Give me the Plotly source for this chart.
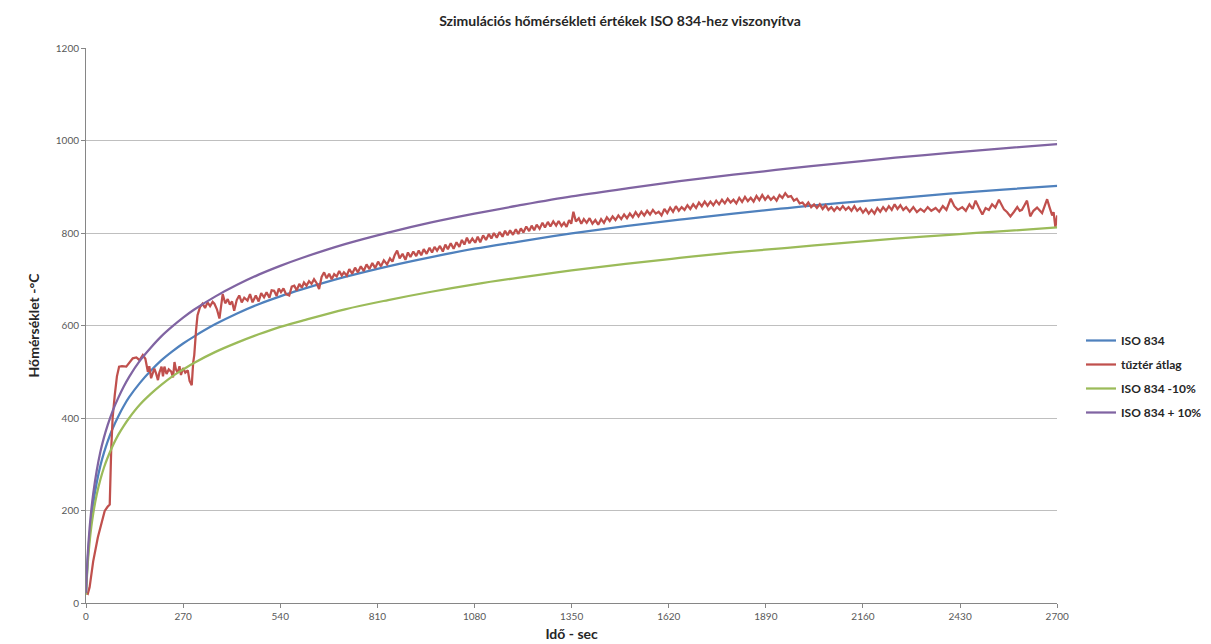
import plotly.graph_objects as go

# ---------------- data ----------------
iso_t = [0, 5, 10, 15, 20, 30, 40, 50, 60, 75, 90, 105, 120, 150, 180, 210, 240, 270, 300,
         360, 420, 480, 540, 600, 720, 840, 960, 1080, 1200, 1350, 1500, 1650, 1800, 1950,
         2100, 2250, 2400, 2550, 2700]
iso_834 = [20, 97, 147, 185, 215, 261, 297, 325, 349, 379, 404, 426, 445, 476, 502, 525, 544, 561, 576,
           603, 626, 646, 663, 678, 705, 728, 748, 766, 781, 799, 815, 829, 842, 854,
           865, 875, 885, 894, 902]
iso_minus10 = [18, 87, 132, 166, 193, 235, 267, 293, 314, 341, 364, 383, 400, 429, 452, 472, 490, 505, 519,
               543, 563, 581, 597, 610, 635, 655, 673, 689, 703, 719, 733, 746, 758, 768,
               778, 788, 796, 804, 812]
iso_plus10 = [22, 107, 162, 203, 236, 287, 327, 358, 384, 417, 444, 468, 489, 524, 552, 577, 598, 617, 634,
              663, 688, 710, 729, 746, 776, 801, 823, 842, 859, 879, 896, 912, 926, 939,
              951, 963, 973, 983, 992]

fire_t = [0, 5, 10, 20, 33, 45, 52, 60, 66, 70, 74, 80, 86, 92, 100, 112, 120, 130, 140, 149, 158, 165,
          172, 176, 181, 186, 190, 195, 200, 204, 210, 214, 218, 224, 230, 237, 242, 246, 250, 255,
          260, 264, 270, 276, 283, 288, 294, 298, 301, 306, 310,
          317, 324, 331, 338, 345, 352, 357, 364, 371, 376, 380, 387, 394, 400, 406, 412, 419, 426,
          433, 440, 449, 456, 463, 472, 480, 487, 495, 502, 510, 516, 523, 530, 536, 542, 549, 556,
          565, 572, 579, 586, 593, 600, 606, 613, 620, 627, 634, 641, 648, 655, 662, 669, 676, 683,
          690, 697, 704, 711, 717,
          725, 732, 740, 748, 756, 764, 772, 780, 788, 796, 804, 812, 820, 828, 837, 845, 852, 858,
          865, 872, 880, 888, 895, 902, 910, 918, 925, 932, 939, 947, 955, 962, 969, 976, 984, 992,
          999, 1006, 1014, 1022, 1030, 1038, 1045, 1052, 1059, 1066, 1074, 1082, 1089, 1096, 1104,
          1112, 1120, 1127, 1134, 1142, 1150, 1158, 1165, 1172, 1179, 1187, 1195, 1202, 1209, 1216,
          1224, 1232, 1239, 1246, 1253, 1261, 1269, 1276, 1284, 1291, 1299, 1307, 1314, 1322, 1329,
          1336, 1343, 1349, 1355, 1362, 1370, 1377, 1384,
          1392, 1400, 1408, 1416, 1424, 1432, 1440, 1448, 1456, 1464, 1472, 1480, 1488, 1496, 1504,
          1512, 1520, 1528, 1536, 1544, 1552, 1560, 1568, 1576, 1584, 1592, 1600, 1608, 1616, 1624,
          1632, 1640, 1648, 1656, 1664, 1672, 1680, 1688, 1696, 1704, 1712, 1720, 1728, 1736, 1744,
          1752, 1760, 1768, 1776, 1784, 1792, 1800, 1808, 1816, 1824, 1832, 1840, 1848, 1856, 1864,
          1872, 1880, 1888, 1896, 1904, 1912, 1920, 1928, 1936, 1944, 1952, 1960, 1968, 1976, 1984,
          1992, 2000, 2008, 2016, 2024, 2032, 2040, 2048, 2056, 2064, 2072, 2080, 2088, 2096, 2104,
          2112, 2120, 2128, 2136, 2144, 2152, 2160, 2168, 2176, 2184, 2192, 2200, 2208, 2216, 2224,
          2232, 2240, 2248, 2256, 2264, 2272,
          2280, 2290, 2300, 2310, 2320, 2330, 2340, 2350, 2362, 2372, 2382, 2392, 2404, 2414, 2424,
          2436, 2446, 2456, 2465, 2473, 2482, 2492, 2501, 2510, 2519, 2528, 2538, 2545, 2552, 2561,
          2570, 2580, 2589, 2596, 2602, 2609, 2616, 2625, 2634, 2644, 2651, 2658, 2665, 2672, 2679,
          2686, 2690, 2695, 2700]
fire_avg = [22, 20, 34, 90, 142, 178, 199, 208, 213, 330, 400, 450, 490, 511, 512, 511, 520, 529, 531, 525, 536, 528,
            500, 512, 486, 500, 507, 496, 482, 498, 511, 490, 511, 495, 505, 500, 488, 521, 505, 498,
            512, 493, 508, 498, 503, 480, 471, 520, 536, 590, 622,
            640, 647, 638, 650, 642, 651, 647, 635, 615, 650, 668, 648, 657, 645, 652, 632, 655, 665,
            650, 660, 654, 668, 650, 665, 652, 670, 661, 672, 660, 676, 675, 664, 680, 672, 680, 668,
            665, 684, 686, 676, 690, 682, 693, 686, 696, 690, 700, 692, 679, 705, 715, 702, 712, 700,
            711, 706, 718, 708, 715,
            708, 722, 712, 725, 715, 728, 718, 732, 722, 735, 724, 738, 728, 741, 732, 745, 738, 752,
            762, 745, 755, 742, 758, 748, 760, 750, 762, 752, 765, 755, 768, 758, 770, 762, 772, 760,
            775, 765, 778, 766, 780, 770, 785, 775, 790, 778, 788, 779, 792, 780, 795,
            785, 798, 788, 800, 790, 802, 792, 805, 795, 806, 796, 808, 798, 810, 801,
            814, 804, 816, 806, 818, 809, 822, 812, 824, 814, 825, 816, 826, 815, 822,
            813, 828, 820, 846, 825, 832, 820, 830,
            822, 832, 820, 828, 818, 830, 822, 834, 826, 836, 828, 838, 830, 840, 832,
            842, 834, 845, 836, 846, 838, 848, 840, 850, 842, 846, 838, 852, 843, 855,
            846, 858, 848, 856, 850, 860, 852, 862, 854, 866, 858, 868, 859, 868, 860,
            870, 862, 872, 864, 874, 866, 872, 864, 876, 867, 878, 869, 876, 868, 880,
            871, 882, 872, 880, 872, 878, 870, 882, 876, 886, 878, 880, 870, 874, 864,
            866, 858, 866, 856, 862, 854, 862, 852, 860, 850, 856, 848, 856, 850, 858,
            850, 856, 848, 858, 848, 854, 844, 852, 842, 850, 842, 854, 846, 856, 848,
            858, 850, 862, 852, 860, 850,
            856, 846, 856, 845, 852, 846, 856, 848, 854, 846, 858, 850, 874, 858, 850,
            856, 848, 862, 852, 870, 855, 840, 854, 850, 862, 855, 872, 860, 851, 845,
            836, 846, 856, 848, 850, 860, 870, 836, 848, 855, 850, 843, 858, 873, 855,
            838, 845, 812, 838]

x_ticks = [0, 270, 540, 810, 1080, 1350, 1620, 1890, 2160, 2430, 2700]

# ---------------- figure ----------------
FONT = "Lato"
fig = go.Figure()
fig.add_trace(go.Scatter(x=iso_t, y=iso_834, mode="lines", name="ISO 834", legendgroup="a",
                         line=dict(color="#4F81BD", width=2.25, shape="spline")))
fig.add_trace(go.Scatter(x=fire_t, y=fire_avg, mode="lines", name="tűztér átlag", legendgroup="b",
                         line=dict(color="#C0504D", width=2.25)))
fig.add_trace(go.Scatter(x=iso_t, y=iso_minus10, mode="lines", name="ISO 834 -10%", legendgroup="c",
                         line=dict(color="#9BBB59", width=2.25, shape="spline")))
fig.add_trace(go.Scatter(x=iso_t, y=iso_plus10, mode="lines", name="ISO 834 + 10%", legendgroup="d",
                         line=dict(color="#8064A2", width=2.25, shape="spline")))

fig.update_layout(
    width=1211, height=644,
    margin=dict(l=78, r=158, t=40, b=48),
    paper_bgcolor="white", plot_bgcolor="white",
    font=dict(family=FONT, color="#404040", size=10),
    title=dict(text="<b>Szimulációs hőmérsékleti értékek ISO 834-hez viszonyítva</b>",
               x=612 / 1211, xref="container", xanchor="center",
               y=1 - 13 / 644, yref="container", yanchor="middle",
               font=dict(family=FONT, size=14, color="#262626")),
    legend=dict(x=1073 / 1211, xref="container", xanchor="left",
                y=1 - 318 / 644, yref="container", yanchor="top",
                font=dict(family=FONT, size=12, color="#262626", weight="bold"),
                tracegroupgap=5, bgcolor="rgba(0,0,0,0)"),
    showlegend=True,
)
fig.update_xaxes(range=[0, 2700], tickvals=x_ticks, ticktext=[str(v) for v in x_ticks],
                 showgrid=False, showline=True, linecolor="#868686", linewidth=1,
                 ticks="outside", ticklen=4, tickcolor="#868686", zeroline=False,
                 tickfont=dict(family=FONT, size=10, color="#595959"),
                 title=dict(text="<b>Idő - sec</b>", standoff=8,
                            font=dict(family=FONT, size=14, color="#262626")))
fig.update_yaxes(range=[0, 1200], dtick=200, showgrid=True, gridcolor="#BFBFBF", gridwidth=1,
                 showline=True, linecolor="#868686", linewidth=1,
                 ticks="outside", ticklen=4, tickcolor="#868686", zeroline=False,
                 tickfont=dict(family=FONT, size=10, color="#595959"),
                 title=dict(text="<b>Hőmérséklet -°C</b>", standoff=12,
                            font=dict(family=FONT, size=14, color="#262626")))

fig.write_html("out.html")
